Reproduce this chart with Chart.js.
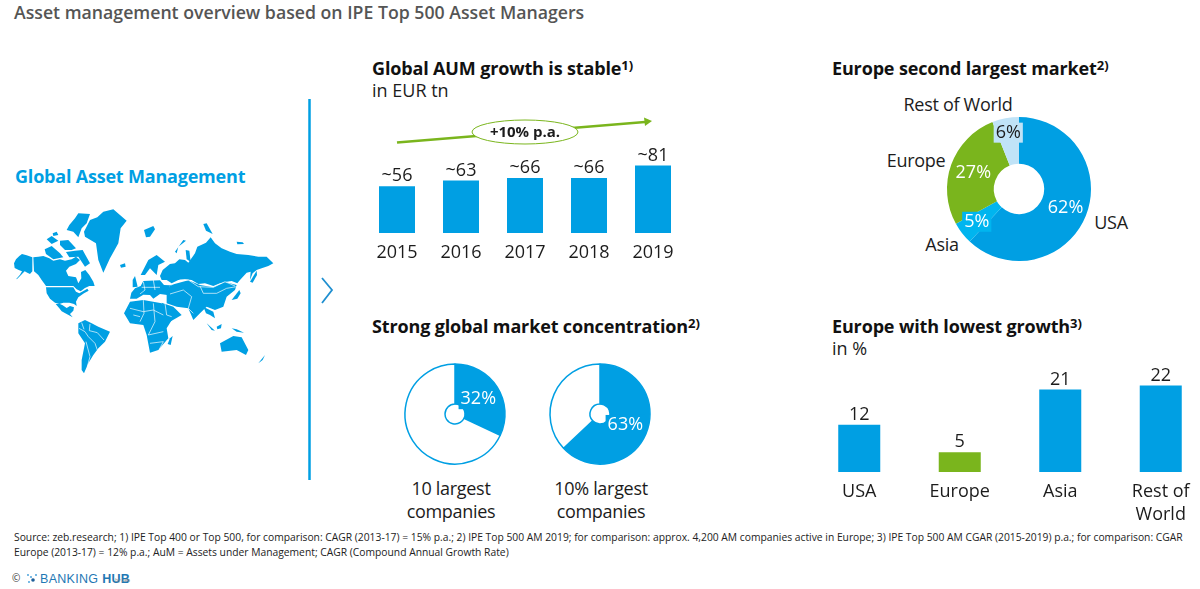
<!DOCTYPE html>
<html>
<head>
<meta charset="utf-8">
<title>Asset management overview</title>
<script src="https://cdn.jsdelivr.net/npm/chart.js@4"></script>
<style>
html, body { margin: 0; padding: 0; width: 1200px; height: 589px; overflow: hidden; background: #fff; }
body { position: relative; font-family: "Open Sans", sans-serif; color: #1c1c1c; }
.t { position: absolute; white-space: nowrap; line-height: 1; }
.head { font-size: 18px; font-weight: 700; color: #111; letter-spacing: -0.15px; }
.sub { font-size: 18px; }
.c { text-align: center; transform: translateX(-50%); }
.lab { font-size: 18px; letter-spacing: -0.3px; }
sup { font-size: 13px; line-height: 0; vertical-align: 5px; letter-spacing: 0; }
canvas { position: absolute; display: block; }
svg { position: absolute; left: 0; top: 0; }
</style>
</head>
<body>

<div class="t" style="left:14px;top:4px;font-size:17.7px;font-weight:600;color:#555">Asset management overview based on IPE Top 500 Asset Managers</div>
<div class="t" style="left:15px;top:167px;font-size:18px;font-weight:700;color:#009fe3;letter-spacing:-0.2px">Global Asset Management</div>

<div class="t head" style="left:372px;top:59px">Global AUM growth is stable<sup>1)</sup></div>
<div class="t sub" style="left:372px;top:81px">in EUR tn</div>
<div class="t head" style="left:832px;top:59px">Europe second largest market<sup>2)</sup></div>
<div class="t head" style="left:372px;top:317px">Strong global market concentration<sup>2)</sup></div>
<div class="t head" style="left:832px;top:317px">Europe with lowest growth<sup>3)</sup></div>
<div class="t sub" style="left:832px;top:339px">in %</div>

<div class="t lab c" style="left:958px;top:95px">Rest of World</div>
<div class="t lab c" style="left:916px;top:151px">Europe</div>
<div class="t lab c" style="left:942px;top:235px">Asia</div>
<div class="t lab c" style="left:1111px;top:213px">USA</div>

<div class="t lab c" style="left:451px;top:479px">10 largest</div>
<div class="t lab c" style="left:451px;top:502px">companies</div>
<div class="t lab c" style="left:601px;top:479px">10% largest</div>
<div class="t lab c" style="left:601px;top:502px">companies</div>

<div class="t" style="left:14px;top:530px;font-size:10.3px;line-height:15px;color:#222">Source: zeb.research; 1) IPE Top 400 or Top 500, for comparison: CAGR (2013-17) = 15% p.a.; 2) IPE Top 500 AM 2019; for comparison: approx. 4,200 AM companies active in Europe; 3) IPE Top 500 AM CGAR (2015-2019) p.a.; for comparison: CGAR<br>Europe (2013-17) = 12% p.a.; AuM = Assets under Management; CAGR (Compound Annual Growth Rate)</div>
<div class="t" style="left:12px;top:573px;font-size:10px;color:#333">©</div>
<div class="t" style="left:40px;top:573px;font-family:'Liberation Sans Narrow',sans-serif;font-size:12.5px;color:#1f78b4;letter-spacing:0.3px">BANKING <b>HUB</b></div>
<div class="t" style="left:115px;top:578px;font-size:5px;color:#888">by zeb</div>

<canvas id="graficoAum" width="320" height="132" style="left:365px;top:133px"></canvas>
<canvas id="graficoMercado" width="170" height="170" style="left:934px;top:104px"></canvas>
<canvas id="graficoTop10" width="120" height="120" style="left:395px;top:354px"></canvas>
<canvas id="graficoTop10pct" width="120" height="120" style="left:540px;top:354px"></canvas>
<canvas id="graficoCrecimiento" width="402" height="178" style="left:809px;top:354px"></canvas>

<svg width="1200" height="589" viewBox="0 0 1200 589">
  <!-- divider and chevron -->
  <line x1="309.5" y1="99" x2="309.5" y2="480" stroke="#009fe3" stroke-width="2.5"/>
  <polyline points="322,278 332,290 322,303" fill="none" stroke="#1f8fd0" stroke-width="1.8"/>

  <!-- growth arrow -->
  <line x1="397" y1="142.5" x2="645" y2="122" stroke="#7ab51d" stroke-width="2.5"/>
  <polygon points="652,121 644,117.5 645,126" fill="#7ab51d"/>
  <ellipse cx="525" cy="132" rx="53" ry="12" fill="#fff" stroke="#7ab51d" stroke-width="1"/>
  <text x="525" y="137" text-anchor="middle" font-family="Open Sans" font-weight="700" font-size="15" fill="#1c1c1c">+10% p.a.</text>

  <!-- logo mark -->
  <g fill="#3a9ad9"><circle cx="28" cy="575" r="0.9"/><circle cx="31" cy="577" r="0.9"/><circle cx="36" cy="575" r="0.9"/><circle cx="29" cy="582" r="0.9"/><circle cx="33" cy="580" r="1.8" fill="#1f5f99"/></g>

  <!-- map, west half -->
  <g transform="translate(10,200) scale(0.3333)" fill="#009fe3">
    <path d="M12,190 18,178 28,168 36,162 50,166 67,172 67,214 60,222 52,218 44,214 36,222 22,236 18,238 30,224 36,214 26,210 14,204Z"/>
    <path d="M70,172 85,170 100,168 118,175 130,182 150,178 165,182 185,178 198,170 210,180 198,192 178,200 168,212 175,228 198,232 205,250 214,235 213,216 226,210 238,225 250,245 254,258 238,258 225,264 212,274 200,268 190,258 108,258 95,240 85,225 72,214Z"/>
    <path d="M108,262 190,262 198,275 208,280 232,266 236,272 222,280 205,292 198,305 200,318 192,312 178,308 160,308 148,312 135,308 120,296 110,280Z"/>
    <path d="M137,312 150,312 158,316 170,324 180,318 192,322 190,332 180,342 188,352 170,342 155,334 148,325Z"/>
    <path d="M222,95 240,60 262,52 280,35 310,28 330,45 350,62 332,85 325,130 300,175 280,218 265,180 258,130 225,110Z"/>
    <path d="M178,75 195,55 205,40 240,42 230,70 215,85 205,112 190,95 170,90Z"/>
    <path d="M110,118 125,108 145,122 125,132Z"/>
    <path d="M104,148 125,138 150,160 160,172 130,178 108,162Z"/>
    <path d="M150,122 175,120 198,145 185,150 165,150 150,135Z"/>
    <path d="M168,156 195,152 218,150 240,190 225,200 205,170 178,172Z"/>
    <path d="M128,100 140,95 145,105 130,108Z"/>
    <path d="M205,370 225,360 245,370 265,380 300,395 285,425 265,445 250,465 235,490 222,520 215,510 215,480 225,430 205,400Z"/>
    <path d="M330,195 345,190 347,200 333,203Z"/>
    <g fill="none" stroke="#fff" stroke-width="2">
      <polyline points="207,385 225,395 235,410 255,430 262,450"/>
      <polyline points="240,372 238,392 262,398 282,420"/>
      <polyline points="228,425 240,470 232,500"/>
      <polyline points="215,368 222,388"/>
    </g>
  </g>

  <!-- map, east half -->
  <g transform="translate(120,200) scale(0.3333)" fill="#009fe3">
    <path d="M120,228 128,210 150,192 165,190 178,178 195,180 205,188 225,160 232,140 258,128 272,112 285,130 305,145 330,155 350,162 385,165 415,170 440,170 460,190 445,198 425,205 410,210 398,220 390,240 392,215 380,218 360,240 352,250 335,243 320,245 300,250 280,258 255,250 235,252 215,240 195,238 175,240 155,250 140,240 125,240Z"/>
    <path d="M150,256 205,241 240,255 280,262 315,246 350,255 345,270 320,290 310,320 285,330 260,320 240,340 220,360 205,325 170,320 140,310 140,280Z"/>
    <path d="M250,320 280,335 285,355 270,345 258,340Z"/>
    <path d="M62,225 85,180 110,165 135,185 115,195 110,225 90,205 75,225Z"/>
    <path d="M30,296 34,278 45,265 62,258 70,243 120,241 132,255 150,256 142,285 120,282 100,296 90,285 70,284 50,296Z"/>
    <path d="M38,240 45,228 53,260 38,262Z"/>
    <path d="M12,340 30,305 70,300 125,310 150,345 165,345 140,385 145,415 115,450 90,458 80,405 70,375 30,370Z"/>
    <path d="M125,308 160,320 185,345 150,365 135,345Z"/>
    <path d="M150,415 158,408 152,435 143,432Z"/>
    <path d="M300,430 340,408 365,412 385,450 378,465 350,450 305,455Z"/>
    <path d="M415,490 435,465 428,480Z"/>
    <path d="M260,370 285,392 275,390Z"/>
    <path d="M290,380 305,372 303,385 292,388Z"/>
    <path d="M335,385 350,388 372,398 350,395Z"/>
    <path d="M72,90 100,78 105,88 90,110 78,112Z"/>
    <path d="M165,155 190,120 198,122 175,140 170,160Z"/>
    <path d="M250,72 260,70 278,102 258,92Z"/>
    <path d="M350,125 368,127 372,132 352,133Z"/>
    <path d="M390,245 410,212 411,225 398,248Z"/>
    <path d="M335,300 358,270 362,280 352,296Z"/>
    <path d="M197,150 208,152 212,185 200,178Z"/>
    <g fill="none" stroke="#fff" stroke-width="2">
      <polyline points="152,256 180,240 205,240 235,260 280,262 315,245 345,258"/>
      <polyline points="240,258 250,280 290,280 320,265 350,260"/>
      <polyline points="150,282 190,270 215,290 205,325 220,340"/>
      <polyline points="70,245 75,270 60,282"/>
      <polyline points="100,240 105,270"/>
      <polyline points="65,262 120,262"/>
      <polyline points="30,325 70,335 100,330 130,345"/>
      <polyline points="70,300 72,340 60,365"/>
      <polyline points="100,310 105,365 85,405"/>
      <polyline points="40,345 60,350"/>
      <polyline points="85,405 130,395"/>
      <polyline points="90,430 130,425 118,448"/>
      <polyline points="135,310 140,345 155,350"/>
    </g>
  </g>
</svg>

<script>
// Global AUM
const anios = ["2015", "2016", "2017", "2018", "2019"];
const aum = [56, 63, 66, 66, 81];
const aumEtiquetas = ["~56", "~63", "~66", "~66", "~81"];

// Mercado por region
const cuotaMercado = [62, 5, 27, 6];

// Concentracion
const top10 = [32, 68];
const top10pct = [63, 37];

// Crecimiento
const regionesCrecimiento = ["USA", "Europe", "Asia", ["Rest of", "World"]];
const crecimiento = [12, 5, 21, 22];

const AZUL = "#009fe3";
const VERDE = "#7ab51d";
const FUENTE = "'Open Sans', sans-serif";

Chart.defaults.animation = false;
Chart.defaults.responsive = false;
Chart.defaults.devicePixelRatio = 1;
Chart.defaults.font.family = FUENTE;
Chart.defaults.plugins.legend.display = false;
Chart.defaults.plugins.tooltip.enabled = false;

// Valores encima de cada barra
const etiquetasBarra = {
    id: "etiquetasBarra",
    afterDatasetsDraw(chart, args, opts) {
        const ctx = chart.ctx;
        const barras = chart.getDatasetMeta(0).data;
        ctx.save();
        ctx.font = "18px " + FUENTE;
        ctx.fillStyle = "#1c1c1c";
        ctx.textAlign = "center";
        ctx.textBaseline = "bottom";
        barras.forEach((barra, i) => ctx.fillText(opts.textos[i], barra.x, barra.y - 1));
        ctx.restore();
    }
};

// Porcentajes dentro de cada sector, con fondo del color del sector
const etiquetasSector = {
    id: "etiquetasSector",
    afterDatasetsDraw(chart, args, opts) {
        const ctx = chart.ctx;
        const datos = chart.data.datasets[0].data;
        ctx.save();
        ctx.font = "18px " + FUENTE;
        ctx.textAlign = "center";
        ctx.textBaseline = "middle";
        chart.getDatasetMeta(0).data.forEach((arco, i) => {
            if (!opts.mostrar[i]) return;
            const p = arco.getCenterPoint();
            const x = arco.x + (p.x - arco.x) * opts.factor[i];
            const y = arco.y + (p.y - arco.y) * opts.factor[i];
            const texto = datos[i] + "%";
            if (opts.caja[i]) {
                const ancho = ctx.measureText(texto).width + 4;
                ctx.fillStyle = chart.data.datasets[0].backgroundColor[i];
                ctx.fillRect(x - ancho / 2, y - 10, ancho, 20);
            }
            ctx.fillStyle = opts.color[i];
            ctx.fillText(texto, x, y);
        });
        ctx.restore();
    }
};

function graficoBarras(id, etiquetas, valores, maximo, colores, textos, ancho, alturaEje) {
    return new Chart(document.getElementById(id), {
        type: "bar",
        data: { labels: etiquetas, datasets: [{ data: valores, backgroundColor: colores, barPercentage: ancho, categoryPercentage: 1 }] },
        options: {
            layout: { padding: 0 },
            plugins: { etiquetasBarra: { textos: textos } },
            scales: {
                y: { display: false, min: 0, max: maximo },
                x: {
                    grid: { display: false },
                    border: { display: false },
                    ticks: { color: "#1c1c1c", font: { size: 18, lineHeight: 1.28 }, padding: 0, maxRotation: 0, autoSkip: false },
                    afterFit(escala) { escala.height = alturaEje; }
                }
            }
        },
        plugins: [etiquetasBarra]
    });
}

function graficoAnillo(id, valores, colores, radio, corte, borde, opcionesEtiquetas) {
    return new Chart(document.getElementById(id), {
        type: "doughnut",
        data: { labels: valores.map(String), datasets: [{ data: valores, backgroundColor: colores, borderColor: borde, borderWidth: borde ? 1.5 : 0 }] },
        options: {
            radius: radio,
            cutout: corte,
            layout: { padding: 0 },
            plugins: { etiquetasSector: opcionesEtiquetas }
        },
        plugins: [etiquetasSector]
    });
}

graficoBarras("graficoAum", anios, aum, 120, AZUL, aumEtiquetas, 0.5625, 32);
graficoBarras("graficoCrecimiento", regionesCrecimiento, crecimiento, 30, [AZUL, VERDE, AZUL, AZUL], crecimiento.map(String), 0.418, 60);

graficoAnillo("graficoMercado", cuotaMercado, [AZUL, "#00b5ef", VERDE, "#c0e3f7"], 72, "35%", null, {
    mostrar: [true, true, true, true], caja: [false, true, false, true],
    color: ["#fff", "#fff", "#fff", "#1c1c1c"], factor: [1.03, 1.1, 1, 1.18]
});
graficoAnillo("graficoTop10", top10, [AZUL, "#fff"], 50, "20%", AZUL, {
    mostrar: [true, false], caja: [true, false], color: ["#fff", "#fff"], factor: [0.92, 1]
});
graficoAnillo("graficoTop10pct", top10pct, [AZUL, "#fff"], 50, "20%", AZUL, {
    mostrar: [true, false], caja: [true, false], color: ["#fff", "#fff"], factor: [0.92, 1]
});
</script>
</body>
</html>
